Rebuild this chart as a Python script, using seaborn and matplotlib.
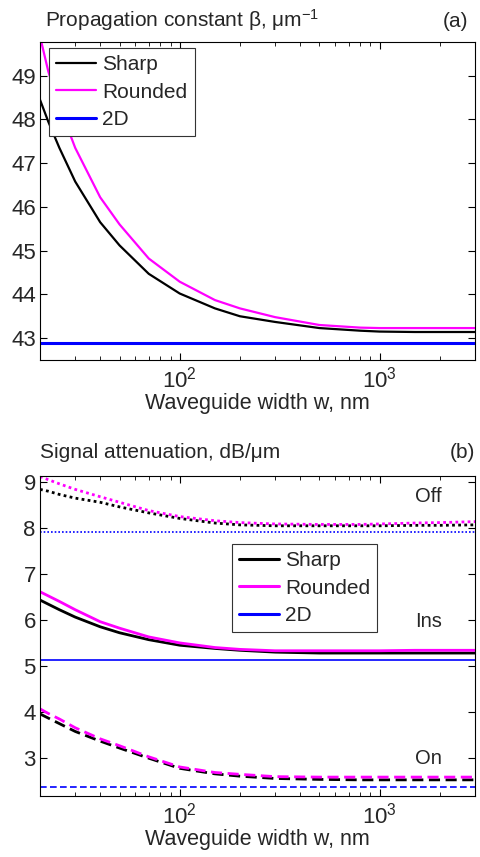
import numpy as np
import pandas as pd
import seaborn as sns
import matplotlib
matplotlib.use("Agg")
import matplotlib.pyplot as plt
from matplotlib.ticker import FixedLocator, FixedFormatter, LogLocator, NullFormatter

# ---------------- data ----------------
width_nm = [20, 22, 25, 30, 40, 50, 70, 100, 150, 200, 300, 500, 800, 1000, 1500, 2000, 3000]

beta_sharp   = [48.45, 47.95, 47.35, 46.58, 45.65, 45.12, 44.47, 44.02, 43.68, 43.50, 43.37, 43.23, 43.17, 43.15, 43.14, 43.14, 43.14]
beta_rounded = [49.90, 49.10, 48.30, 47.35, 46.22, 45.60, 44.82, 44.29, 43.87, 43.68, 43.48, 43.30, 43.24, 43.23, 43.23, 43.23, 43.23]
beta_2d = 42.89

off_sharp   = [8.83, 8.79, 8.72, 8.64, 8.55, 8.45, 8.32, 8.20, 8.10, 8.06, 8.04, 8.04, 8.04, 8.04, 8.05, 8.05, 8.06]
off_rounded = [9.11, 9.04, 8.95, 8.83, 8.67, 8.55, 8.37, 8.24, 8.15, 8.11, 8.08, 8.07, 8.07, 8.08, 8.10, 8.11, 8.13]
off_2d = 7.91

ins_sharp   = [6.43, 6.34, 6.22, 6.06, 5.85, 5.72, 5.57, 5.45, 5.38, 5.34, 5.30, 5.28, 5.28, 5.28, 5.28, 5.28, 5.28]
ins_rounded = [6.61, 6.52, 6.40, 6.22, 5.96, 5.82, 5.63, 5.50, 5.40, 5.36, 5.33, 5.33, 5.33, 5.33, 5.34, 5.34, 5.34]
ins_2d = 5.14

on_sharp   = [3.96, 3.87, 3.75, 3.58, 3.37, 3.22, 3.00, 2.78, 2.66, 2.61, 2.56, 2.54, 2.53, 2.53, 2.53, 2.53, 2.53]
on_rounded = [4.07, 3.97, 3.85, 3.66, 3.42, 3.27, 3.03, 2.81, 2.69, 2.65, 2.60, 2.59, 2.59, 2.59, 2.59, 2.59, 2.59]
on_2d = 2.38

legend_labels = ["Sharp", "Rounded", "2D"]
xtick_values = [100, 1000]
xtick_labels = [r"$\mathregular{10^2}$", r"$\mathregular{10^3}$"]
yticks_top = [43, 44, 45, 46, 47, 48, 49]
yticks_bot = [3, 4, 5, 6, 7, 8, 9]

# ---------------- style ----------------
sns.set_theme(style="ticks")
plt.rcParams["font.family"] = ["Liberation Sans", "DejaVu Sans"]
plt.rcParams["mathtext.fontset"] = "custom"
plt.rcParams["mathtext.rm"] = "Liberation Sans"
plt.rcParams["mathtext.default"] = "regular"

BLACK = "#000000"
MAGENTA = "#ff00ff"
BLUE = "#0000ff"

W, H = 481, 857
fig = plt.figure(figsize=(W / 100, H / 100), dpi=100)
fig.patch.set_facecolor("white")

def px_axes(left, top, right, bottom):
    return fig.add_axes([left / W, 1 - bottom / H, (right - left) / W, (bottom - top) / H])

ax1 = px_axes(40, 42, 475, 360)
ax2 = px_axes(40, 476, 475, 796)

def style_axis(ax, yticks):
    ax.set_xscale("log")
    ax.set_xlim(width_nm[0], width_nm[-1])
    ax.xaxis.set_major_locator(FixedLocator(xtick_values))
    ax.xaxis.set_major_formatter(FixedFormatter(xtick_labels))
    ax.xaxis.set_minor_locator(LogLocator(base=10, subs=np.arange(2, 10)))
    ax.xaxis.set_minor_formatter(NullFormatter())
    ax.set_yticks(yticks)
    ax.tick_params(which="both", direction="in", top=True, right=True, color="black")
    ax.tick_params(which="major", length=5, width=0.8, labelsize=16, pad=3)
    ax.tick_params(which="minor", length=3, width=0.6)
    ax.tick_params(axis="x", which="major", pad=5)
    for sp in ax.spines.values():
        sp.set_visible(True)
        sp.set_color("black")
        sp.set_linewidth(0.8)
    ax.set_facecolor("white")
    ax.set_xlabel("Waveguide width w, nm", fontsize=15.5, labelpad=0)

# ---------------- panel (a) ----------------
df_a = pd.DataFrame({"w": width_nm, "sharp": beta_sharp, "rounded": beta_rounded})
sns.lineplot(data=df_a, x="w", y="sharp", ax=ax1, color=BLACK, lw=1.6, label=legend_labels[0])
sns.lineplot(data=df_a, x="w", y="rounded", ax=ax1, color=MAGENTA, lw=1.6, label=legend_labels[1])
ax1.axhline(beta_2d, color=BLUE, lw=2.2, label=legend_labels[2])
style_axis(ax1, yticks_top)
ax1.set_ylim(42.5, 49.77)
ax1.set_ylabel("")
leg1 = ax1.legend(loc="upper left", bbox_to_anchor=(0.0207, 0.981), borderaxespad=0,
                  fontsize=15, frameon=True, fancybox=False, edgecolor="#333333",
                  handlelength=1.9, handletextpad=0.3, labelspacing=0.4, borderpad=0.35)
leg1.get_frame().set_linewidth(0.8)
leg1.get_frame().set_alpha(1)

fig.text(45 / W, 1 - 27 / H, r"Propagation constant β, μm$^{-1}$", fontsize=15, va="baseline", ha="left")
fig.text(468 / W, 1 - 27 / H, "(a)", fontsize=15, va="baseline", ha="right")

# ---------------- panel (b) ----------------
df_b = pd.DataFrame({"w": width_nm,
                     "off_s": off_sharp, "off_r": off_rounded,
                     "ins_s": ins_sharp, "ins_r": ins_rounded,
                     "on_s": on_sharp, "on_r": on_rounded})
sns.lineplot(data=df_b, x="w", y="off_s", ax=ax2, color=BLACK, lw=2.0, linestyle=(0, (1, 1.2)))
sns.lineplot(data=df_b, x="w", y="off_r", ax=ax2, color=MAGENTA, lw=2.0, linestyle=(0, (1, 1.2)))
ax2.axhline(off_2d, color=BLUE, lw=1.2, linestyle=(0, (1, 1.2)))
l_s = sns.lineplot(data=df_b, x="w", y="ins_s", ax=ax2, color=BLACK, lw=2.0).lines[-1]
l_r = sns.lineplot(data=df_b, x="w", y="ins_r", ax=ax2, color=MAGENTA, lw=2.0).lines[-1]
l_2 = ax2.axhline(ins_2d, color=BLUE, lw=1.2)
sns.lineplot(data=df_b, x="w", y="on_s", ax=ax2, color=BLACK, lw=2.0, linestyle=(0, (4, 2)))
sns.lineplot(data=df_b, x="w", y="on_r", ax=ax2, color=MAGENTA, lw=2.0, linestyle=(0, (4, 2)))
ax2.axhline(on_2d, color=BLUE, lw=1.2, linestyle=(0, (4, 2)))
style_axis(ax2, yticks_bot)
ax2.set_ylim(2.18, 9.12)
ax2.set_ylabel("")

leg2 = ax2.legend([l_s, l_r, l_2], legend_labels, loc="upper left", bbox_to_anchor=(0.441, 0.787),
                  borderaxespad=0, fontsize=15, frameon=True, fancybox=False, edgecolor="#333333",
                  handlelength=1.9, handletextpad=0.3, labelspacing=0.4, borderpad=0.35)
leg2.get_frame().set_linewidth(0.8)
leg2.get_frame().set_alpha(1)
for h in leg2.get_lines():
    h.set_linewidth(2.2)

ax2.text(1760, 8.67, "Off", fontsize=14.5, ha="center", va="center")
ax2.text(1760, 5.97, "Ins", fontsize=14.5, ha="center", va="center")
ax2.text(1760, 2.99, "On", fontsize=14.5, ha="center", va="center")

fig.text(40 / W, 1 - 458 / H, "Signal attenuation, dB/μm", fontsize=15, va="baseline", ha="left")
fig.text(475 / W, 1 - 458 / H, "(b)", fontsize=15, va="baseline", ha="right")

fig.savefig("out.png", dpi=100, facecolor="white")
